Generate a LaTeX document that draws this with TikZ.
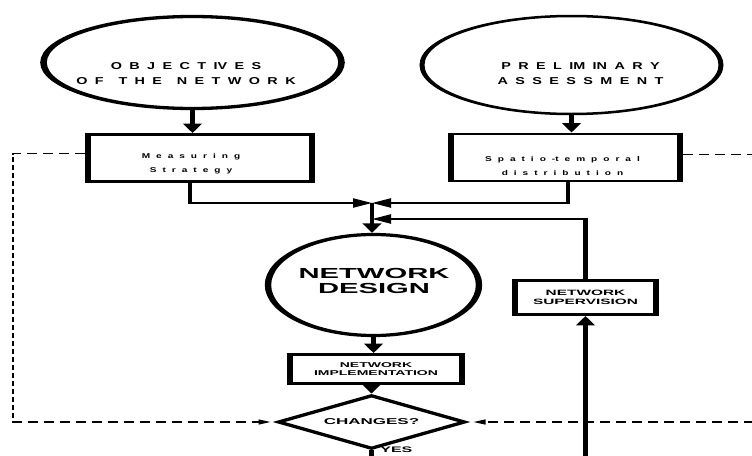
\documentclass[tikz,border=0pt]{standalone}
\usepackage{fontspec}
\setmainfont{Liberation Sans}
\usetikzlibrary{arrows.meta,shapes.geometric,calc}
\newcommand\topletterfont{\fontsize{10}{15}\selectfont\bfseries\addfontfeature{FakeStretch=0.72}\spaceskip=3.7pt\relax}
\newcommand\smallletterfont{\fontsize{7}{14}\selectfont\bfseries\addfontfeature{FakeStretch=0.72}\spaceskip=3pt\relax}
\tikzset{
  ell/.style={ellipse, draw, inner sep=0pt},
  box/.style={rectangle, draw, line width=2.8pt, inner sep=0pt},
  conn/.style={line width=2.1pt, -{Triangle[length=9.5pt,width=9pt]}},
  plainline/.style={line width=2.1pt},
  fbline/.style={line width=1.1pt, dash pattern=on 5pt off 3pt},
  fbarrow/.style={fbline, -{Triangle[length=6pt,width=5pt]}},
  toptxt/.style={align=center, inner sep=0pt, font=\topletterfont},
  smalltxt/.style={align=center, inner sep=0pt, font=\smallletterfont},
}
\begin{document}
\begin{tikzpicture}
\useasboundingbox (0,0) rectangle (752pt,-455pt);
\begin{scope}[transform canvas={xscale=2}, x=0.5pt, y=-1pt]
  % top ellipses
  \node[ell, line width=3.3pt, minimum width=149pt, minimum height=92pt] (obj) at (192.5,62.5) {};
  \node[toptxt] (objT) at (186,74) {O B J E C T IV E S\\O F\ \ T H E\ \ N E T W O R K};
  \node[ell, line width=2.5pt, minimum width=149.5pt, minimum height=98pt] (pre) at (571.5,65) {};
  \node[toptxt] (preT) at (580.5,74) {P R E L IM IN A R Y\\A S S E S S M E N T};
  % boxes
  \node[box, minimum width=112pt, minimum height=47pt] (meas) at (200,158) {};
  \node[smalltxt] (measT) at (191,164) {M e a s u r i n g\\S t r a t e g y};
  \node[box, minimum width=114.5pt, minimum height=47pt] (spat) at (565.5,157.5) {};
  \node[smalltxt] (spatT) at (562.5,165.5) {S p a t i o -t e m p o r a l\\d i s t r i b u t i o n};
  % design
  \node[ell, line width=3.2pt, minimum width=105.5pt, minimum height=101pt] (nd) at (373.5,285) {};
  \node[align=center, inner sep=0pt, font={\fontsize{14.6}{15}\selectfont\bfseries}] (ndT) at (374,281) {NETWORK\\DESIGN};
  \node[box, minimum width=86pt, minimum height=29pt, align=center,
        font={\fontsize{7}{7.5}\selectfont\bfseries}] (impl) at (376,369) {NETWORK\\IMPLEMENTATION};
  \node[box, minimum width=70.5pt, minimum height=34pt, align=center,
        font={\fontsize{7.7}{8.5}\selectfont\bfseries}] (sup) at (585.5,297.5) {NETWORK\\SUPERVISION};
  \node[diamond, draw, line width=3pt, inner sep=0pt, minimum width=94pt, minimum height=43pt,
        font={\fontsize{8.5}{10}\selectfont\bfseries}] (dia) at (371.5,422) {CHANGES?};
  \node[anchor=west, inner sep=0pt, font={\fontsize{8}{10}\selectfont\bfseries}] (yes) at (380,449.5) {YES};
  % coordinates
  \coordinate (j) at (372,203);
  \coordinate (k) at (372,219);
  \coordinate (bot) at (585.5,470);
  \coordinate (dl) at (13,422);
  \coordinate (dr) at (770,422);
  % connectors
  \draw[conn] (obj.south) -- (obj.south |- meas.north);
  \draw[conn] (pre.south) -- (pre.south |- spat.north);
  \draw[conn] ([xshift=-5pt]meas.south) |- (j);
  \draw[conn] ([xshift=1.25pt]spat.south) |- (j);
  \draw[conn] (j) -- (j |- nd.north);
  \draw[conn] (sup.north) |- (k);
  \draw[conn] (bot) -- (sup.south);
  \draw[conn] (nd.south) -- (nd.south |- impl.north);
  \draw[conn] (impl.south -| dia.north) -- (dia.north);
  \draw[plainline] (dia.south) -- (dia.south |- bot);
  % dashed feedback
  \draw[fbarrow, shorten >=2pt] ([yshift=4.5pt]meas.west) -| (dl) -- (dia.west);
  \draw[fbarrow, shorten >=2.5pt] (dr) -- (dia.east);
  \draw[fbline] ([yshift=3pt]spat.east) -- ++(120,0);
\end{scope}
\end{tikzpicture}
\end{document}
